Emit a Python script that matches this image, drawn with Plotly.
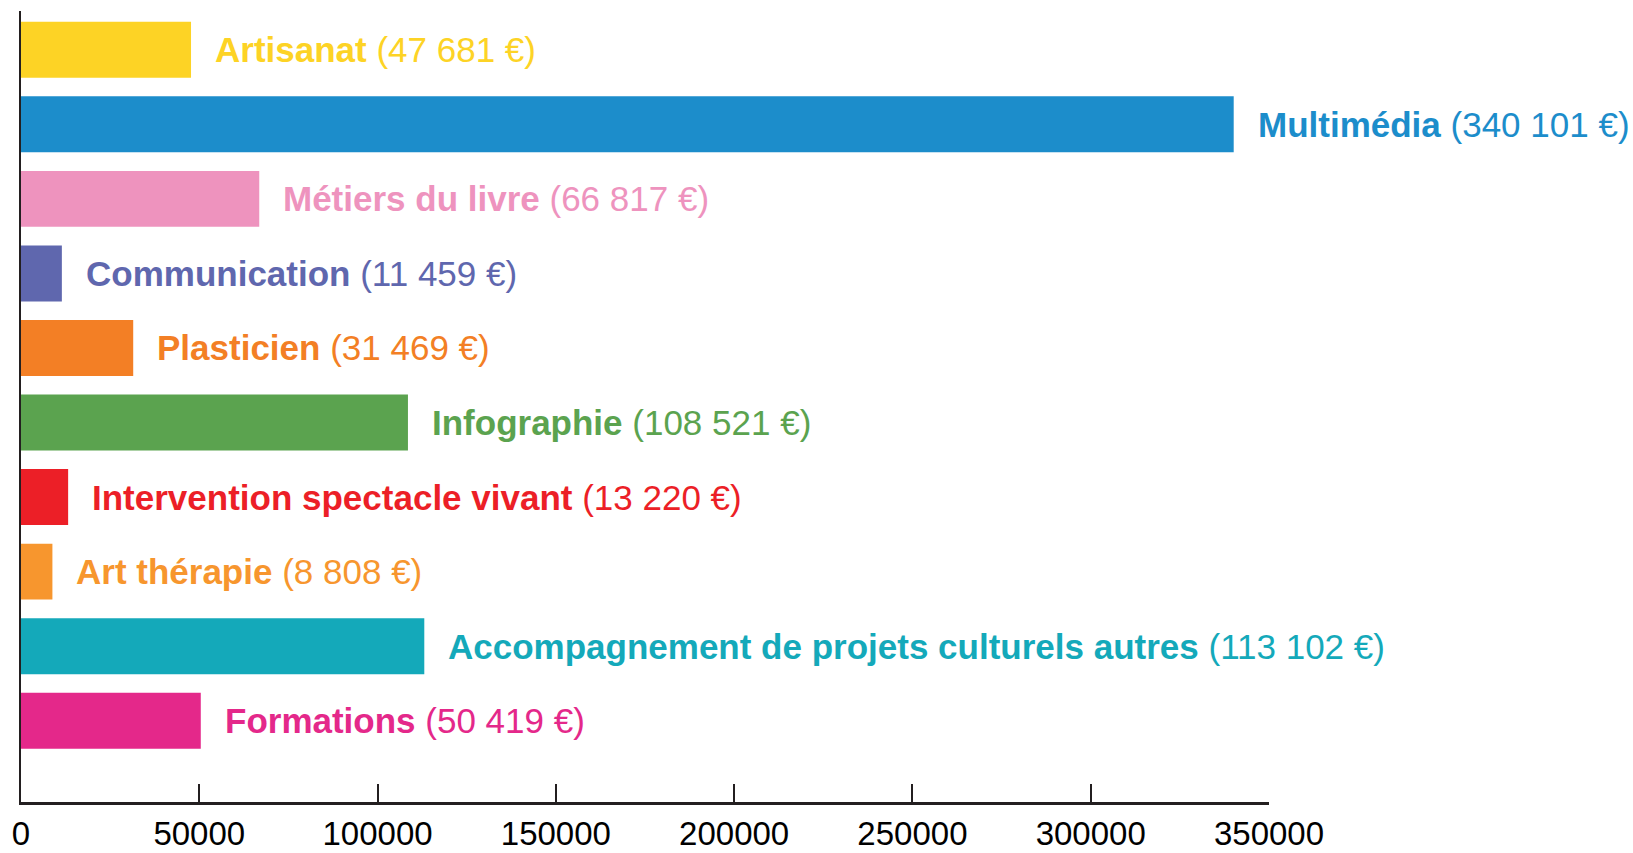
import plotly.graph_objects as go

categories = [
    "Artisanat",
    "Multimédia",
    "Métiers du livre",
    "Communication",
    "Plasticien",
    "Infographie",
    "Intervention spectacle vivant",
    "Art thérapie",
    "Accompagnement de projets culturels autres",
    "Formations",
]
values = [47681, 340101, 66817, 11459, 31469, 108521, 13220, 8808, 113102, 50419]
colors = [
    "#FDD325", "#1C8DCB", "#EE93BE", "#5F67AE", "#F37F25",
    "#5BA34F", "#EC1F27", "#F7962E", "#14A9BA", "#E4288A",
]
tick_values = [0, 50000, 100000, 150000, 200000, 250000, 300000, 350000]

FONT = "Liberation Sans, Arial, Helvetica, sans-serif"

fig = go.Figure()
fig.add_trace(go.Bar(
    x=values,
    y=categories,
    orientation="h",
    marker=dict(color=colors, line=dict(width=0)),
    hoverinfo="x+y",
))

for cat, val, col in zip(categories, values, colors):
    txt = f"<b>{cat}</b> ({val:,} €)".replace(",", " ")
    fig.add_annotation(
        x=val, y=cat, text=txt, showarrow=False,
        xanchor="left", yanchor="middle", xshift=22,
        font=dict(family=FONT, size=35, color=col),
    )

fig.update_layout(
    width=1633, height=853,
    margin=dict(l=21, r=364, t=11, b=51, autoexpand=False),
    paper_bgcolor="white", plot_bgcolor="white",
    bargap=0.25,
    showlegend=False,
    font=dict(family=FONT, color="#111"),
)
fig.update_xaxes(
    range=[0, 350000],
    tickvals=tick_values,
    tickformat="d",
    automargin=False,
    showgrid=False, zeroline=False,
    showline=True, linecolor="#231F20", linewidth=3,
    ticks="inside", ticklen=18, tickwidth=1.5, tickcolor="#231F20",
    tickfont=dict(family=FONT, size=33, color="black"),
    ticklabelstandoff=0,
)
fig.update_yaxes(
    categoryorder="array", categoryarray=categories,
    range=[10.09, -0.52],
    automargin=False,
    showticklabels=False, showgrid=False, zeroline=False,
    showline=True, linecolor="#231F20", linewidth=2, ticks="",
)

fig.write_html(
    "out.html",
    config={"displayModeBar": False},
    post_script="document.body.style.margin='0';",
)
